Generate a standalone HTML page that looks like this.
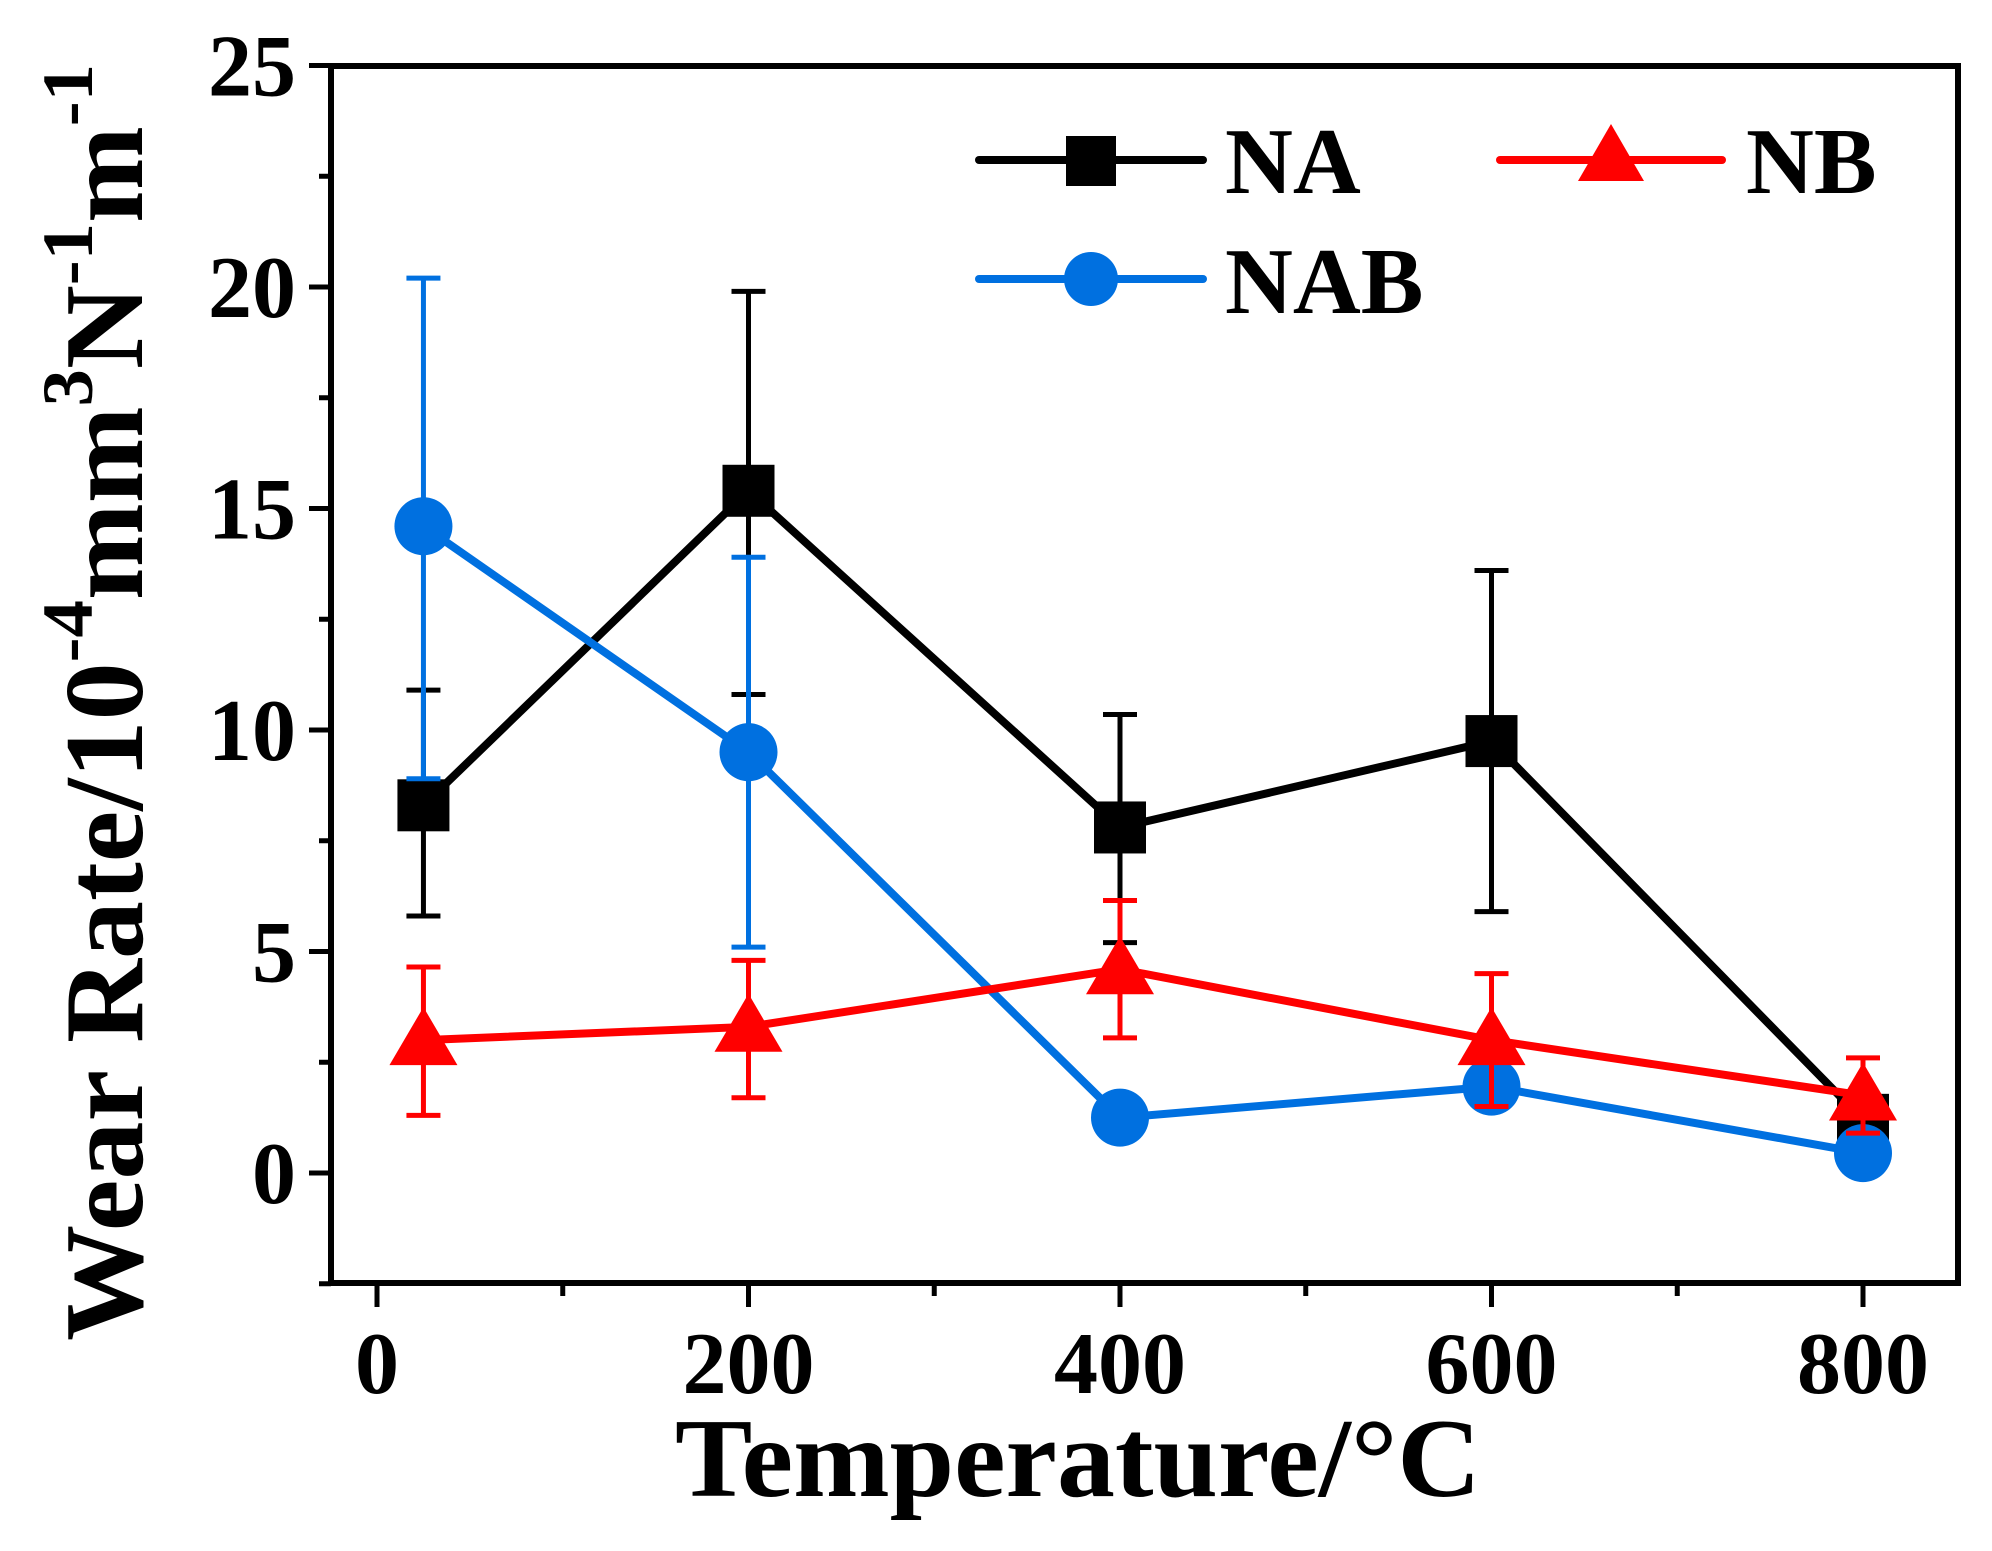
<!DOCTYPE html>
<html><head><meta charset="utf-8"><style>
html,body{margin:0;padding:0;background:#fff;}
svg{display:block;font-family:"Liberation Serif",serif;font-weight:bold;}
</style></head><body>
<svg id="chart" width="1992" height="1551" viewBox="0 0 1992 1551">
<g id="axes"></g>
<g id="series"></g>
<g id="legend">
  <line x1="979" y1="160" x2="1203" y2="160" stroke="#000" stroke-width="8" stroke-linecap="round"/>
  <rect x="1066" y="136" width="50" height="50" fill="#000"/>
  <text x="1225" y="193" font-size="94">NA</text>
  <line x1="1500" y1="160" x2="1722" y2="160" stroke="#ff0000" stroke-width="8" stroke-linecap="round"/>
  <polygon points="1611,124 1644,181 1578,181" fill="#ff0000"/>
  <text x="1746" y="193" font-size="94">NB</text>
  <line x1="979" y1="279" x2="1203" y2="279" stroke="#0070e0" stroke-width="8" stroke-linecap="round"/>
  <circle cx="1091" cy="279" r="27" fill="#0070e0"/>
  <text x="1225" y="313" font-size="94">NAB</text>
</g>
<text x="1078" y="1496" font-size="112" text-anchor="middle" textLength="806" lengthAdjust="spacingAndGlyphs">Temperature/°C</text>
<text transform="translate(142,1341) rotate(-90)" font-size="112" textLength="1277" lengthAdjust="spacingAndGlyphs">Wear Rate/10<tspan font-size="72" dy="-50">-4</tspan><tspan dy="50">mm</tspan><tspan font-size="72" dy="-50">3</tspan><tspan dy="50">N</tspan><tspan font-size="72" dy="-50">-1</tspan><tspan dy="50">m</tspan><tspan font-size="72" dy="-50">-1</tspan></text>
</svg>
<script>
const temps = [25, 200, 400, 600, 800];
const naVals = [8.3, 15.4, 7.8, 9.75, 1.2];
const naLow = [5.8, 10.8, 5.2, 5.9, 0.9];
const naHigh = [10.9, 19.9, 10.35, 13.6, 1.6];
const nbVals = [3.0, 3.3, 4.6, 3.0, 1.75];
const nbLow = [1.3, 1.7, 3.05, 1.5, 0.9];
const nbHigh = [4.65, 4.8, 6.15, 4.5, 2.6];
const nabVals = [14.6, 9.5, 1.25, 1.95, 0.45];
const nabLow = [8.9, 5.1, 1.0, 1.5, 0.3];
const nabHigh = [20.2, 13.9, 1.5, 2.4, 0.6];
const xTicks = [0, 200, 400, 600, 800];
const yTicks = [0, 5, 10, 15, 20, 25];

const NS = "http://www.w3.org/2000/svg";
const X0 = 331, X1 = 1958, Y0 = 66, Y1 = 1283;
function sx(v){ return 377 + v * 1.8575; }
function sy(v){ return 1173 - v * 44.3; }
function mk(tag, attrs, parent){
  const e = document.createElementNS(NS, tag);
  for (const k in attrs) e.setAttribute(k, attrs[k]);
  parent.appendChild(e);
  return e;
}
const axes = document.getElementById('axes');
const frame = mk('rect', {x:X0, y:Y0, width:X1-X0, height:Y1-Y0, fill:'none', stroke:'#000', 'stroke-width':6}, axes);


for (let v = 0; v <= 800; v += 100) {
  const major = v % 200 === 0;
  const t = mk('line', {x1:sx(v), y1:Y1, x2:sx(v), y2:Y1 + (major ? 24 : 13), stroke:'#000', 'stroke-width':5}, axes);
  
  
}
xTicks.forEach(v => {
  const t = mk('text', {x:sx(v), y:1393, 'font-size':88, 'text-anchor':'middle'}, axes);
  t.textContent = v;
  
  
});
for (let v = -2.5; v <= 25; v += 2.5) {
  const major = Math.abs(v % 5) < 1e-9;
  const t = mk('line', {x1:X0, y1:sy(v), x2:X0 - (major ? 22 : 12), y2:sy(v), stroke:'#000', 'stroke-width':5}, axes);
  
  
}
yTicks.forEach(v => {
  const t = mk('text', {x:296, y:sy(v) + 30, 'font-size':88, 'text-anchor':'end'}, axes);
  t.textContent = v;
  
  
});

const series = document.getElementById('series');
function drawSeries(name, vals, lo, hi, color, marker){
  const g = mk('g', {}, series);
  
  
  temps.forEach((t, i) => {
    const x = sx(t);
    const e = mk('path', {d:`M${x},${sy(lo[i])}V${sy(hi[i])}M${x-17},${sy(hi[i])}H${x+17}M${x-17},${sy(lo[i])}H${x+17}`, stroke:color, 'stroke-width':5, fill:'none'}, g);
    
    
  });
  const pts = temps.map((t, i) => sx(t) + ',' + sy(vals[i])).join(' ');
  const l = mk('polyline', {points:pts, fill:'none', stroke:color, 'stroke-width':8, 'stroke-linejoin':'round'}, g);
  
  
  temps.forEach((t, i) => {
    const x = sx(t), y = sy(vals[i]);
    let m;
    if (marker === 'square') m = mk('rect', {x:x-26, y:y-26, width:52, height:52, fill:color}, g);
    else if (marker === 'circle') m = mk('circle', {cx:x, cy:y, r:29, fill:color}, g);
    else m = mk('polygon', {points:`${x},${y-33} ${x+34},${y+25} ${x-34},${y+25}`, fill:color}, g);
    
    
  });
}
drawSeries('na', naVals, naLow, naHigh, '#000000', 'square');
drawSeries('nab', nabVals, nabLow, nabHigh, '#0070e0', 'circle');
drawSeries('nb', nbVals, nbLow, nbHigh, '#ff0000', 'triangle');
</script>
</body></html>
